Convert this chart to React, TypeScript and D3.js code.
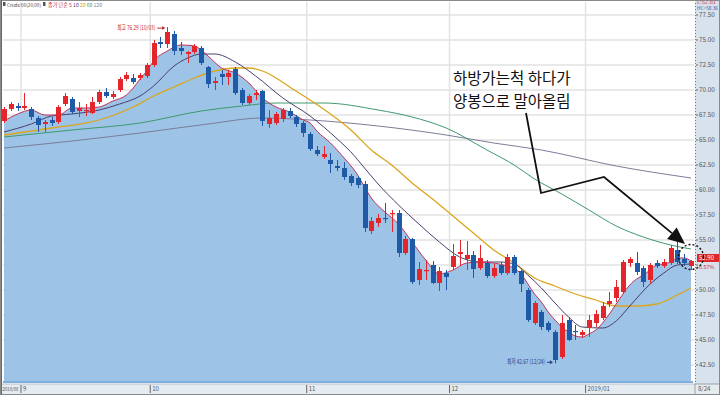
import React from "react";
import * as d3 from "d3";

// ---- candle data ----
const opens = [66.9,68.1,68.4,68.2,68.1,67.2,66.6,67.0,66.8,68.6,69.1,67.9,67.9,67.7,68.8,69.8,69.3,70.0,71.1,71.2,71.2,71.4,72.5,74.8,74.6,75.6,74.2,73.6,73.8,74.2,72.3,70.7,71.6,71.3,72.1,70.0,68.7,69.5,69.9,66.6,66.7,67.1,67.9,67.3,66.7,65.6,64.0,63.3,63.0,62.4,62.2,61.4,61.2,60.6,55.9,56.7,57.2,57.6,57.7,53.7,55.1,51.0,51.9,52.5,50.7,51.7,52.3,53.6,53.1,53.5,52.2,52.7,51.4,52.5,51.7,53.3,51.9,50.0,46.7,47.8,46.7,45.8,43.3,47.0,45.9,45.5,46.2,46.7,47.2,48.6,49.2,49.8,52.7,52.7,52.2,51.0,52.7,52.4,52.7,54.0,53.1,52.4];
const highs = [68.3,68.8,68.7,69.7,68.3,67.4,67.0,67.3,68.5,69.7,69.3,68.8,68.6,69.3,70.0,70.2,69.9,71.3,71.8,71.6,71.7,72.7,75.0,75.3,76.29,75.9,74.8,73.9,74.6,74.4,72.4,71.3,72.0,72.0,72.3,70.2,69.6,70.0,70.0,68.0,67.8,68.2,68.2,67.5,66.9,65.8,64.4,64.4,63.7,63.0,62.8,61.6,61.4,60.9,57.3,57.6,58.7,58.0,58.0,55.4,55.2,52.8,53.0,52.9,52.3,52.0,54.6,55.0,54.9,53.9,54.5,53.0,52.6,52.8,53.6,53.5,52.0,50.2,48.9,48.0,46.9,46.0,47.5,47.3,46.5,46.0,47.5,48.0,48.8,49.8,51.0,53.0,53.3,53.8,52.4,52.7,53.0,53.1,54.5,54.8,53.6,53.0];
const lows = [66.7,67.9,67.9,68.0,67.0,65.8,65.8,66.4,66.6,68.4,67.6,67.3,67.4,67.6,68.6,69.2,69.1,69.8,70.9,70.6,71.0,71.2,72.3,74.2,74.2,73.5,73.5,72.7,73.6,72.5,70.2,70.0,70.5,70.5,69.5,68.5,68.5,69.0,66.4,66.2,66.5,66.8,67.2,66.3,65.3,63.9,63.4,63.1,61.7,61.9,61.0,60.4,60.2,55.8,55.6,56.3,56.7,55.8,53.3,53.5,50.6,50.5,51.0,50.6,49.9,50.0,52.0,52.4,52.0,51.2,52.0,51.2,51.2,51.5,51.5,51.5,49.8,46.8,46.5,46.0,45.8,42.67,43.1,44.9,45.0,45.2,45.3,46.3,47.0,48.3,48.8,49.6,52.3,51.5,50.3,50.6,52.2,52.2,52.5,52.6,52.4,52.0];
const closes = [68.1,68.6,68.2,68.4,67.3,66.5,66.8,66.7,68.3,69.4,67.8,68.2,68.0,68.8,69.8,69.4,69.6,71.1,71.5,70.8,71.5,72.5,74.7,74.6,75.8,73.9,73.9,73.8,74.4,72.7,70.6,70.9,71.3,71.7,69.7,68.7,69.4,69.7,66.9,67.2,67.6,68.0,67.4,66.6,65.7,64.1,63.6,63.6,62.6,62.2,61.3,60.7,60.5,56.2,56.9,57.2,57.1,57.7,53.7,55.1,50.8,52.1,52.0,50.7,51.9,51.3,53.4,53.8,53.5,52.1,53.2,51.4,52.2,51.7,53.3,51.7,50.6,47.0,48.7,46.3,46.0,43.0,46.7,45.0,45.8,45.8,47.0,47.6,48.4,48.9,50.3,52.8,53.1,51.8,50.8,52.5,52.4,52.8,54.2,52.8,52.7,52.9];

// ---- moving averages: [candle index, value] ----
const ma5: [number, number][] = [[0,66.9],[2,67.6],[4,68.0],[6,67.5],[8,67.5],[10,68.2],[12,68.2],[14,68.3],[16,68.9],[18,69.5],[19,70.2],[20,71.1],[21,71.9],[22,72.9],[24,73.9],[26,74.5],[28,74.4],[29,74.0],[30,73.4],[32,72.2],[34,71.7],[36,70.7],[38,69.2],[40,68.3],[42,67.8],[44,67.0],[45,66.7],[46,65.9],[48,64.7],[50,63.2],[52,61.5],[53,60.3],[54,59.2],[56,57.8],[58,56.6],[60,54.8],[62,53.0],[64,51.6],[66,52.0],[68,52.7],[70,52.8],[72,52.7],[74,52.4],[75,52.2],[76,51.6],[78,49.6],[79,48.8],[80,47.8],[81,47.0],[82,46.3],[83,45.8],[84,45.4],[85,45.3],[86,45.6],[87,46.0],[88,46.7],[89,47.6],[90,48.6],[91,49.6],[92,50.5],[93,51.1],[94,51.5],[95,52.0],[96,52.5],[97,52.6],[98,52.8],[99,53.2],[100,53.2],[101,52.9]];
const ma10: [number, number][] = [[0,65.8],[4,66.6],[7,67.4],[10,67.6],[14,68.0],[17,68.6],[20,69.4],[22,70.4],[25,72.4],[27,73.2],[29,73.6],[31,73.6],[34,72.8],[37,71.4],[41,69.2],[45,67.4],[49,65.1],[51,63.8],[53,62.2],[55,60.6],[58,58.5],[61,56.6],[64,54.8],[67,53.3],[70,52.8],[73,52.8],[75,52.6],[77,51.5],[79,50.2],[81,48.7],[83,47.3],[85,46.3],[88,46.2],[90,46.9],[92,48.4],[95,50.6],[97,51.7],[99,52.5],[101,52.6]];
const ma20: [number, number][] = [[0,65.5],[7,66.2],[14,67.0],[19,68.3],[22,69.4],[25,70.3],[28,71.2],[31,71.9],[34,72.2],[36,72.2],[38,71.9],[40,71.2],[42,70.3],[45,69.0],[48,67.6],[51,66.0],[54,64.0],[57,62.5],[60,60.7],[63,59.1],[66,57.4],[69,55.7],[72,54.0],[75,52.7],[78,51.2],[81,50.4],[84,49.6],[87,49.0],[90,48.4],[93,48.4],[96,48.6],[99,49.5],[101,50.2]];
const ma60: [number, number][] = [[0,65.3],[10,66.0],[20,66.7],[29,67.9],[35,68.4],[40,68.7],[47,68.7],[55,68.0],[60,67.3],[65,66.2],[71,64.0],[75,62.5],[78,61.1],[82,59.6],[86,58.0],[90,56.4],[94,55.3],[98,54.5],[101,54.1]];
const ma120: [number, number][] = [[0,64.2],[10,64.9],[20,65.7],[30,66.6],[38,67.2],[45,67.0],[55,66.4],[65,65.5],[72,64.7],[79,64.0],[90,62.4],[101,61.2]];

// ---- axis labels ----
const priceTicks = [77.5, 75, 72.5, 70, 67.5, 65, 62.5, 60, 57.5, 55, 52.5, 50, 47.5, 45, 42.5];
const monthIdx = [3, 22, 45, 66, 86];
const monthLabels = ["9", "10", "11", "12", "2019/01"];
const firstLabel = "2018/08";
const highIdx = 24;
const lowIdx = 81;
const highText = "최고 76.29 (10/03)";
const lowText = "최저 42.67 (12/24)";
const noteLines = ["하방가는척 하다가", "양봉으로 말아올림"];
const legendItems = ["종가 단순 5 ", "10 ", "20 ", "60 ", "120"];
const legendColors = ["#c0282e", "#4a3e6e", "#d4a01c", "#3e9a6e", "#7c7c9a"];

const W = 720, H = 395;
const PLOT_L = 3, PLOT_R = 694, PLOT_T = 2, PLOT_B = 383;
const RED = "#e3262c", BLUE = "#1f5aa6";
const FONT = "'Noto Sans CJK KR', 'Noto Sans', sans-serif";
const FIT = "spacingAndGlyphs";

export default function App() {
  const x = d3.scaleLinear().domain([0, closes.length - 1]).range([4, 691]);
  const y = d3.scaleLinear().domain([42.5, 77.5]).range([365, 15]);
  const step = x(1) - x(0);

  const line = d3.line<[number, number]>().x(d => x(d[0])).y(d => y(d[1])).curve(d3.curveMonotoneX);
  const area = d3.area<[number, number]>().x(d => x(d[0])).y0(PLOT_B).y1(d => y(d[1])).curve(d3.curveMonotoneX);

  // annotation arrow
  const pts: [number, number][] = [[526, 113], [541, 193], [604, 177]];
  const tip: [number, number] = [685, 244];
  const from = pts[pts.length - 1];
  const dx = tip[0] - from[0], dy = tip[1] - from[1];
  const len = Math.hypot(dx, dy);
  const ux = dx / len, uy = dy / len;
  const base: [number, number] = [tip[0] - 17 * ux, tip[1] - 17 * uy];
  const px = -uy, py = ux;
  const head = `${tip[0]},${tip[1]} ${base[0] + 7.5 * px},${base[1] + 7.5 * py} ${base[0] - 7.5 * px},${base[1] - 7.5 * py}`;

  const last = closes.length - 1;
  const lastY = y(closes[last]);
  const hx = x(highIdx), hy = y(highs[highIdx]);
  const lx = x(lowIdx), ly = y(lows[lowIdx]);
  // the current-price box covers the tick label that falls beneath it
  const visibleTicks = priceTicks.filter(t => Math.abs(y(t) - (lastY - 3)) > 9);

  return (
    <svg width={W} height={H} style={{ position: "absolute", left: 0, top: 0, display: "block" }} fontFamily={FONT}>
      <rect x={0} y={0} width={W} height={H} fill="#fff" />
      {/* grid */}
      {priceTicks.map(t => (
        <line key={"h" + t} x1={PLOT_L} x2={PLOT_R} y1={y(t)} y2={y(t)} stroke="#e2e2e2" strokeWidth={1.5} />
      ))}
      {monthIdx.map(i => (
        <line key={"v" + i} x1={x(i) - step / 2} x2={x(i) - step / 2} y1={PLOT_T} y2={PLOT_B} stroke="#e2e2e2" strokeWidth={1.5} />
      ))}
      {/* 5MA area */}
      <path d={area(ma5) || ""} fill="#9dc3e6" />
      <line x1={PLOT_L} x2={x(last) + 2} y1={PLOT_B - 1} y2={PLOT_B - 1} stroke="#7fb0de" strokeWidth={2} />
      {/* MA lines */}
      <path d={line(ma120) || ""} fill="none" stroke="#7c7c9a" strokeWidth={1} />
      <path d={line(ma60) || ""} fill="none" stroke="#3e9a6e" strokeWidth={1} />
      <path d={line(ma20) || ""} fill="none" stroke="#dba51c" strokeWidth={1.3} />
      <path d={line(ma10) || ""} fill="none" stroke="#4a3e6e" strokeWidth={1} />
      <path d={line(ma5) || ""} fill="none" stroke="#c0345c" strokeWidth={1} />
      {/* candles */}
      {closes.map((c, i) => {
        const o = opens[i];
        const up = c >= o;
        const col = up ? RED : BLUE;
        const cx = Math.round(x(i));
        const top = y(Math.max(o, c));
        const bot = y(Math.min(o, c));
        return (
          <g key={i}>
            <line x1={cx + 0.5} x2={cx + 0.5} y1={y(highs[i])} y2={y(lows[i])} stroke={col} strokeWidth={1} />
            <rect x={cx - 2} y={top} width={5} height={Math.max(1.2, bot - top)} fill={col} />
          </g>
        );
      })}
      {/* high / low labels */}
      <text x={hx - 50} y={hy + 3} fontSize={6.5} fill="#c0282e" textLength={38} lengthAdjust={FIT}>{highText}</text>
      <line x1={hx - 10} x2={hx - 4} y1={hy + 1} y2={hy + 1} stroke="#c0282e" strokeWidth={1} />
      <path d={`M${hx - 2},${hy + 1} l-3,-2 l0,4 z`} fill="#c0282e" />
      <text x={lx - 48} y={ly + 1} fontSize={6.5} fill="#2a3e8c" textLength={38} lengthAdjust={FIT}>{lowText}</text>
      <line x1={lx - 8} x2={lx - 4} y1={ly - 1} y2={ly - 1} stroke="#2a3e8c" strokeWidth={1} />
      <path d={`M${lx - 2},${ly - 1} l-3,-2 l0,4 z`} fill="#2a3e8c" />
      {/* legend */}
      <rect x={3} y={2} width={2.5} height={4} fill="#555" />
      <text x={7} y={7} fontSize={4.8} fill="#444" textLength={34} lengthAdjust={FIT}>Crude 00(20,09)</text>
      <rect x={43} y={2} width={2.5} height={4} fill="#555" />
      <text x={48} y={7} fontSize={5.2} textLength={54} lengthAdjust={FIT}>
        {legendItems.map((t, k) => (
          <tspan key={t} fill={legendColors[k]}>{t}</tspan>
        ))}
      </text>
      {/* annotation */}
      <g fontSize={15.5} fill="#111">
        {noteLines.map((t, k) => (
          <text key={k} x={453} y={84 + k * 23}>{t}</text>
        ))}
      </g>
      <polyline points={[...pts, base].map(p => p.join(",")).join(" ")} fill="none" stroke="#111" strokeWidth={1.8} />
      <polygon points={head} fill="#111" />
      {/* bottom axis */}
      <rect x={0} y={PLOT_B + 1} width={W} height={H - PLOT_B - 1} fill="#e6ebf0" />
      <line x1={0} x2={W} y1={PLOT_B + 1} y2={PLOT_B + 1} stroke="#b8c0c8" strokeWidth={1} />
      <line x1={0} x2={W} y1={H - 0.5} y2={H - 0.5} stroke="#9aa2aa" strokeWidth={1} />
      <text x={2.5} y={391} fontSize={5} fill="#555" textLength={16} lengthAdjust={FIT}>{firstLabel}</text>
      {monthIdx.map((i, k) => (
        <g key={"m" + i}>
          <line x1={x(i) - step / 2} x2={x(i) - step / 2} y1={PLOT_B + 2} y2={H - 2} stroke="#666" strokeWidth={1} />
          <text x={x(i) - step / 2 + 2} y={391} fontSize={6} fill="#555">{monthLabels[k]}</text>
        </g>
      ))}
      {/* right axis */}
      <rect x={PLOT_R + 1} y={0} width={W - PLOT_R - 1} height={PLOT_B + 1} fill="#d8e2ed" />
      <line x1={PLOT_R + 1.5} x2={PLOT_R + 1.5} y1={0} y2={PLOT_B + 1} stroke="#777" strokeWidth={1} strokeDasharray="1,2" />
      {priceTicks.map(t => (
        <line key={"tk" + t} x1={PLOT_R + 2} x2={PLOT_R + 4} y1={y(t)} y2={y(t)} stroke="#666" />
      ))}
      {visibleTicks.map(t => (
        <text key={"t" + t} x={PLOT_R + 5} y={y(t) + 2.2} fontSize={6.3} fill="#555">{t.toFixed(2)}</text>
      ))}
      <text x={PLOT_R + 3} y={4.2} fontSize={4.4} fill="#d02a2a" textLength={19} lengthAdjust={FIT}>L:52.81</text>
      <text x={PLOT_R + 3} y={10.4} fontSize={4.4} fill="#2a4aa0" textLength={21} lengthAdjust={FIT}>HC=58.36</text>
      <rect x={PLOT_R + 3} y={lastY - 7} width={W - PLOT_R - 3} height={8} fill="#e02828" />
      <text x={PLOT_R + 5} y={lastY - 1} fontSize={6} fill="#fff">{closes[last].toFixed(2)}</text>
      <text x={PLOT_R + 5} y={lastY + 7.8} fontSize={5.4} fill="#d02a2a">0.57%</text>
      <rect x={PLOT_R + 1} y={PLOT_B + 1} width={W - PLOT_R - 1} height={H - PLOT_B - 1} fill="#e6ebf0" stroke="#9aa2aa" />
      <text x={PLOT_R + 4} y={391} fontSize={6} fill="#555">8/24</text>
      {/* frame */}
      <rect x={0.5} y={0.5} width={W - 1} height={H - 1} fill="none" stroke="#8a8a8a" />
      <line x1={1.5} x2={1.5} y1={0} y2={H} stroke="#666" />
      {/* dotted circle */}
      <circle cx={x(last)} cy={lastY - 4} r={12.5} fill="none" stroke="#111" strokeWidth={1.4} strokeDasharray="2,2" />
    </svg>
  );
}
